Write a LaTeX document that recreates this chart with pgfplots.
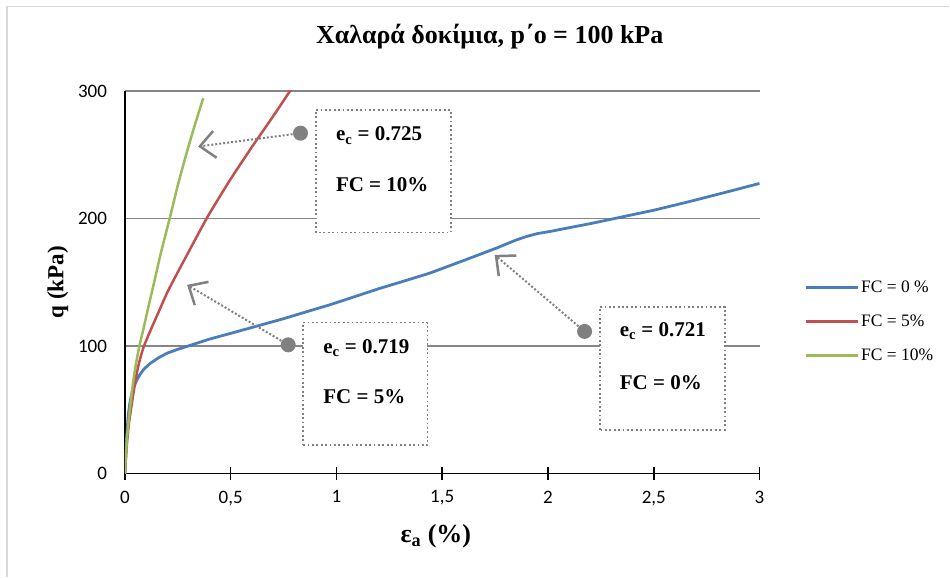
\documentclass[border=0pt]{standalone}
\usepackage{pgfplots}
\pgfplotsset{compat=1.18}
\usepackage{fontspec}
\setmainfont{Liberation Serif}
\newfontfamily\carlito{Carlito}
\usetikzlibrary{arrows.meta}
\definecolor{cblue}{RGB}{74,126,187}
\definecolor{cred}{RGB}{192,80,77}
\definecolor{cgreen}{RGB}{155,187,89}
\definecolor{cgrid}{RGB}{134,134,134}
\definecolor{cann}{RGB}{128,128,128}
\begin{document}
\begin{tikzpicture}
\path (0,0) rectangle (950pt,577pt);
\draw[color={rgb,255:red,217;green,217;blue,217}, line width=1.2pt] (7pt,0pt) -- (7pt,570.5pt) -- (950pt,570.5pt);
\begin{axis}[
  scale only axis, width=635pt, height=383pt,
  at={(125pt,103pt)}, anchor=south west,
  xmin=0, xmax=3, ymin=0, ymax=300,
  axis lines*=left,
  axis line style={black, line width=1.5pt},
  xtick={0,0.5,1,1.5,2,2.5,3}, ytick={0,100,200,300},
  ymajorgrids, grid style={cgrid, line width=1.5pt},
  tick align=center, major tick length=13pt,
  xtick style={black, line width=1.5pt},
  ytick style={draw=none},
  ticklabel style={font=\carlito\fontsize{19}{20}\selectfont},
  /pgf/number format/.cd, use comma, assume math mode=true,
  /pgfplots/.cd,
  xticklabel style={yshift=-7pt},
  yticklabel style={xshift=-8pt},
  title={\textbf{Χαλαρά δοκίμια, p΄o = 100 kPa}},
  title style={at={(0.5748,1.109)}, anchor=base, font=\fontsize{26}{28}\selectfont},
  xlabel={\textbf{ε\textsubscript{a} (\%)}},
  xlabel style={at={(0.49,-0.164)}, anchor=center, font=\fontsize{26}{28}\selectfont},
  ylabel={\textbf{q (kPa)}},
  ylabel style={at={(-0.1055,0.5)}, anchor=center, font=\fontsize{23}{24}\selectfont},
  legend style={draw=none, fill=none, at={(1.07,0.397)}, anchor=west,
    font=\fontsize{17.5}{18}\selectfont, row sep=17pt, inner sep=0pt},
  legend cell align=left,
  legend image code/.code={\draw[#1, line width=3pt] (0pt,0pt) -- (52pt,0pt);},
  clip=true,
]
\addplot[cblue, line width=2.8pt] coordinates {
(0,0) (0.004,15) (0.008,28) (0.012,38) (0.016,46) (0.022,54) (0.03,61) (0.04,67)
(0.055,73) (0.07,77.5) (0.09,82) (0.12,86.5) (0.16,91) (0.2,94.5) (0.25,97.5)
(0.307,100.5) (0.4,105.5) (0.5,110) (0.62,115.5) (0.75,121.5) (0.87,127.5) (0.969,132.4)
(1.1,139.5) (1.2,145) (1.32,151) (1.441,157.2) (1.6,167) (1.7,173.3) (1.756,176.8)
(1.8,179.8) (1.85,183.2) (1.9,186) (1.95,188.2) (2.008,189.8) (2.1,192.8) (2.2,196)
(2.323,200.3) (2.5,206.5) (2.669,213.3) (2.85,221) (3.0,227.5)};
\addlegendentry{FC = 0 \%}
\addplot[cred, line width=2.5pt, smooth, tension=0.4] coordinates {
(0,0) (0.008,20) (0.018,38) (0.03,52) (0.045,68) (0.06,82) (0.075,92) (0.09,100)
(0.12,112) (0.16,127) (0.2,142) (0.25,158) (0.3,173.5) (0.35,189) (0.4,204)
(0.5,231) (0.6,256) (0.7,280) (0.785,301)};
\addlegendentry{FC = 5\%}
\addplot[cgreen, line width=2.5pt, smooth, tension=0.4] coordinates {
(0,0) (0.006,18) (0.012,32) (0.02,45) (0.03,60) (0.039,72) (0.05,84) (0.068,100)
(0.087,113) (0.11,130) (0.134,147) (0.17,173) (0.213,201) (0.25,226) (0.291,251)
(0.33,273) (0.37,294.3)};
\addlegendentry{FC = 10\%}
% annotation boxes
\draw[cann, line width=1.8pt, dash pattern=on 1.8pt off 2.6pt, fill=white]
  (axis cs:0.902,189.0) rectangle (axis cs:1.540,285.1);
\draw[cann, line width=1.8pt, dash pattern=on 1.8pt off 2.6pt, fill=white]
  (axis cs:0.842,22.2) rectangle (axis cs:1.430,118.5);
\draw[cann, line width=1.8pt, dash pattern=on 1.8pt off 2.6pt, fill=white]
  (axis cs:2.244,34.5) rectangle (axis cs:2.835,130.6);
\node[anchor=base west, inner sep=0pt, font=\bfseries\fontsize{21}{22}\selectfont] at (axis cs:0.997,260.8) {e\textsubscript{c} = 0.725};
\node[anchor=base west, inner sep=0pt, font=\bfseries\fontsize{21}{22}\selectfont] at (axis cs:0.997,221.1) {FC = 10\%};
\node[anchor=base west, inner sep=0pt, font=\bfseries\fontsize{21}{22}\selectfont] at (axis cs:0.937,94.5) {e\textsubscript{c} = 0.719};
\node[anchor=base west, inner sep=0pt, font=\bfseries\fontsize{21}{22}\selectfont] at (axis cs:0.937,55.4) {FC = 5\%};
\node[anchor=base west, inner sep=0pt, font=\bfseries\fontsize{21}{22}\selectfont] at (axis cs:2.339,107.5) {e\textsubscript{c} = 0.721};
\node[anchor=base west, inner sep=0pt, font=\bfseries\fontsize{21}{22}\selectfont] at (axis cs:2.339,65.8) {FC = 0\%};
% arrows
\draw[cann, line width=2pt, dash pattern=on 2pt off 2pt, -{Straight Barb[length=15pt, width=27pt, line width=2.5pt]}]
  (axis cs:0.830,266.9) -- (axis cs:0.346,256.4);
\draw[cann, line width=2pt, dash pattern=on 2pt off 2pt, -{Straight Barb[length=15pt, width=27pt, line width=2.5pt]}]
  (axis cs:0.772,101.0) -- (axis cs:0.294,148.0);
\draw[cann, line width=2pt, dash pattern=on 2pt off 2pt, -{Straight Barb[length=15pt, width=27pt, line width=2.5pt]}]
  (axis cs:2.173,111.5) -- (axis cs:1.748,171.5);
\fill[cann] (axis cs:0.830,266.9) circle (7.5pt);
\fill[cann] (axis cs:0.772,101.0) circle (7.5pt);
\fill[cann] (axis cs:2.173,111.5) circle (7.5pt);
\end{axis}
\end{tikzpicture}
\end{document}
